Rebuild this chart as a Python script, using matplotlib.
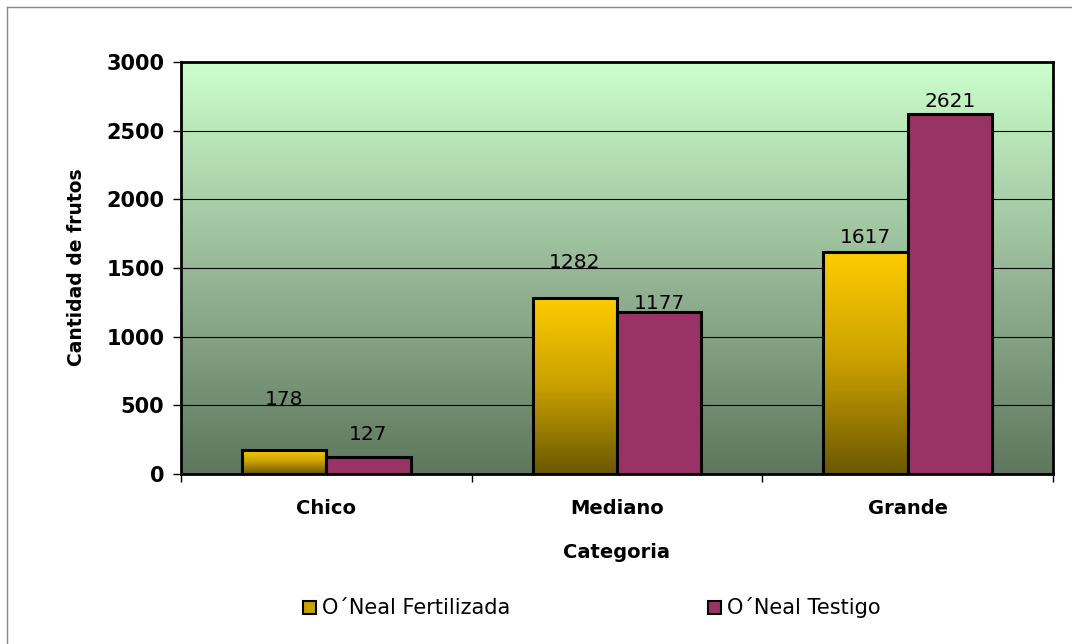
import matplotlib.pyplot as plt
import numpy as np
from matplotlib.colors import LinearSegmentedColormap
from matplotlib.patches import Patch

plt.rcParams['font.family'] = ['DejaVu Sans']

categorias = ['Chico', 'Mediano', 'Grande']
fertilizada = [178, 1282, 1617]
testigo = [127, 1177, 2621]
series_names = ["O\u00b4Neal Fertilizada", "O\u00b4Neal Testigo"]

# label offsets in pixels above bar top (as in the original)
off_fert = [50, 35, 14]
off_test = [22, 9, 13]

fig = plt.figure(figsize=(10.72, 6.44), dpi=100)
ax = fig.add_axes([181/1072, 1 - 474/644, 872/1072, 412/644])

# background gradient
bg = LinearSegmentedColormap.from_list('bg', ['#5e775e', '#98b898', '#ccffcc'])
grad = np.linspace(0, 1, 256).reshape(-1, 1)
ax.imshow(grad, cmap=bg, origin='lower', aspect='auto',
          extent=[-0.5, 2.5, 0, 3000], zorder=0)

yel = LinearSegmentedColormap.from_list('yel', ['#6b5800', '#c9a000', '#ffcc00'])
w = 0.29
x = np.arange(len(categorias))
bars_f = ax.bar(x - w/2, fertilizada, w, facecolor='none', edgecolor='black', lw=2.2, zorder=3)
bars_t = ax.bar(x + w/2, testigo, w, color='#993366', edgecolor='black', lw=2.2, zorder=3)
for b in bars_f:
    x0 = b.get_x()
    im = ax.imshow(grad, cmap=yel, origin='lower', aspect='auto',
                   extent=[x0, x0 + b.get_width(), 0, b.get_height()], zorder=2)
    im.set_clip_path(b)

for b, v, o in zip(bars_f, fertilizada, off_fert):
    ax.annotate(str(v), (b.get_x() + b.get_width()/2, v), xytext=(0, o * 0.72),
                textcoords='offset points', ha='center', va='center', fontsize=14.5, zorder=4)
for b, v, o in zip(bars_t, testigo, off_test):
    ax.annotate(str(v), (b.get_x() + b.get_width()/2, v), xytext=(0, o * 0.72),
                textcoords='offset points', ha='center', va='center', fontsize=14.5, zorder=4)

ax.set_xlim(-0.5, 2.5)
ax.set_ylim(0, 3000)
ax.set_yticks(range(0, 3001, 500))
ax.yaxis.grid(True, color='black', lw=0.8)
for gl in ax.yaxis.get_gridlines():
    gl.set_zorder(1)
ax.set_xticks([-0.5, 0.5, 1.5, 2.5])
ax.set_xticklabels([])
ax.set_xticks(x, minor=True)
ax.set_xticklabels(categorias, minor=True, fontsize=14, fontweight='bold')
ax.tick_params(axis='x', which='minor', length=0, pad=18)
ax.tick_params(axis='x', which='major', length=6, width=1)
ax.tick_params(axis='y', length=6, width=1, labelsize=15, pad=6)
for t in ax.get_yticklabels():
    t.set_fontweight('bold')
for s in ax.spines.values():
    s.set_linewidth(2)

fig.text(616/1072, 1 - 553/644, 'Categoria', fontsize=14, fontweight='bold',
         ha='center', va='center')
fig.text(76/1072, 1 - 267/644, 'Cantidad de frutos', fontsize=13.5, fontweight='bold',
         ha='center', va='center', rotation=90)

handles = [Patch(facecolor='#c9a000', edgecolor='black', lw=1.5),
           Patch(facecolor='#993366', edgecolor='black', lw=1.5)]
fig.legend(handles, series_names, loc='center', bbox_to_anchor=(592/1072, 1 - 608/644),
           ncol=2, frameon=False, fontsize=15, columnspacing=9.5,
           handlelength=0.6, handleheight=0.6, handletextpad=0.3)

# outer chart border (top and left visible)
fig.add_artist(plt.Line2D([7/1072, 1], [1 - 7/644, 1 - 7/644], color='#888888', lw=1))
fig.add_artist(plt.Line2D([7/1072, 7/1072], [0, 1 - 7/644], color='#888888', lw=1))

fig.savefig('out.png', dpi=100)
